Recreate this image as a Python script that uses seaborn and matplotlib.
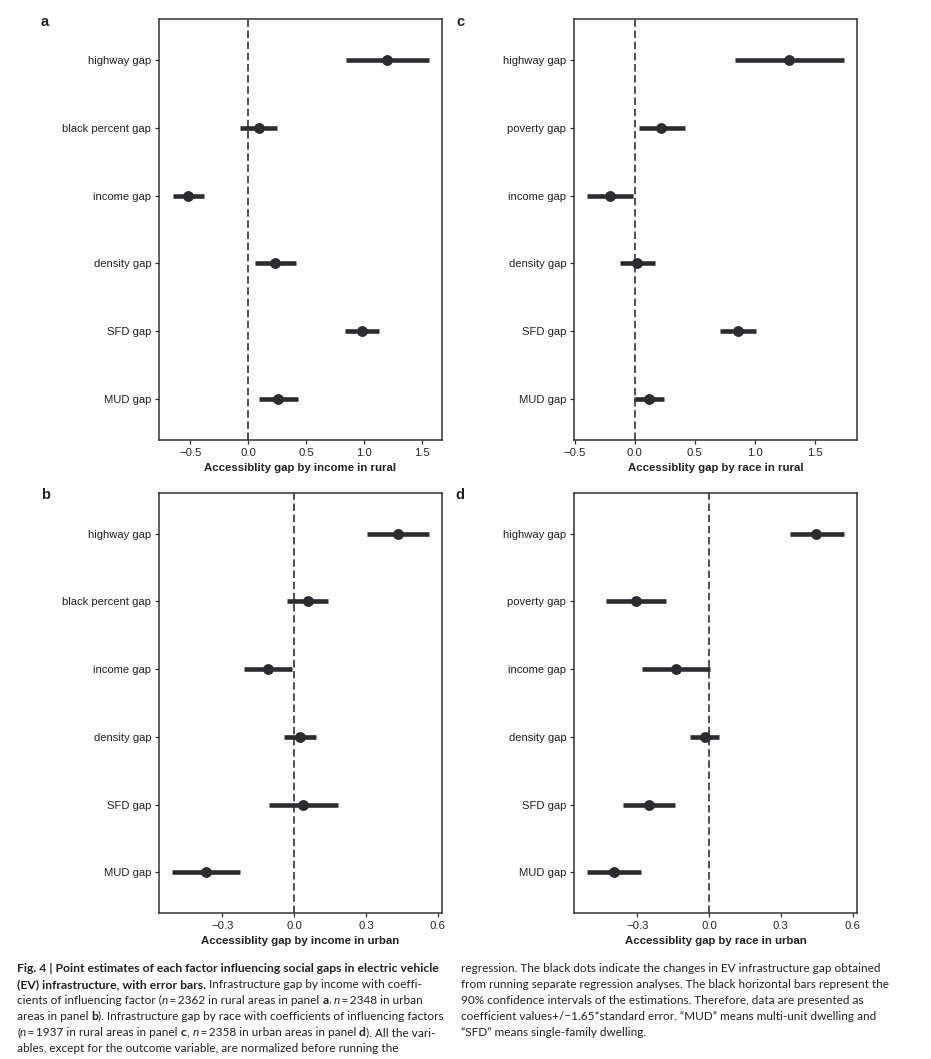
import matplotlib
matplotlib.use("Agg")
import matplotlib.pyplot as plt
import matplotlib.transforms as mtransforms
import pandas as pd
import seaborn as sns

# factor names (top to bottom)
income_factors = ["highway gap", "black percent gap", "income gap", "density gap", "SFD gap", "MUD gap"]
race_factors = ["highway gap", "poverty gap", "income gap", "density gap", "SFD gap", "MUD gap"]

# panel a: gap by income, rural
a_est = [1.20, 0.09, -0.52, 0.23, 0.98, 0.26]
a_lo = [0.84, -0.075, -0.65, 0.055, 0.83, 0.095]
a_hi = [1.56, 0.25, -0.38, 0.41, 1.13, 0.43]

# panel b: gap by income, urban
b_est = [0.434, 0.056, -0.110, 0.025, 0.038, -0.368]
b_lo = [0.306, -0.028, -0.208, -0.043, -0.107, -0.509]
b_hi = [0.564, 0.141, -0.010, 0.092, 0.183, -0.227]

# panel c: gap by race, rural
c_est = [1.286, 0.222, -0.203, 0.022, 0.858, 0.119]
c_lo = [0.839, 0.033, -0.394, -0.125, 0.711, -0.006]
c_hi = [1.742, 0.422, -0.014, 0.167, 1.008, 0.244]

# panel d: gap by race, urban
d_est = [0.448, -0.303, -0.138, -0.018, -0.251, -0.397]
d_lo = [0.337, -0.430, -0.278, -0.078, -0.359, -0.508]
d_hi = [0.562, -0.178, 0.003, 0.042, -0.141, -0.283]

a_ticks = [-0.5, 0.0, 0.5, 1.0, 1.5]
c_ticks = [-0.5, 0.0, 0.5, 1.0, 1.5]
urban_ticks = [-0.3, 0.0, 0.3, 0.6]

DARK = "#2b2b30"
EDGE = "#333333"
W, H = 931, 1059

sns.set_style("ticks")
plt.rcParams["font.family"] = ["Liberation Sans", "DejaVu Sans"]


def to_long(factors, lo, est, hi):
    rows = []
    for f, l, e, h in zip(factors, lo, est, hi):
        for v in (l, e, h):
            rows.append({"factor": f, "value": v})
    return pd.DataFrame(rows)


def add_ax(fig, left, right, top, bottom):
    return fig.add_axes([left / W, 1 - bottom / H, (right - left) / W, (bottom - top) / H])


def coef_panel(ax, factors, lo, est, hi, xlim, ticks, xlabel):
    df = to_long(factors, lo, est, hi)
    ax.axvline(0, color=EDGE, lw=1.2, ls=(0, (4.5, 2.2)), zorder=0)
    # median of (lo, est, hi) is the estimate; full percentile interval is lo..hi
    sns.pointplot(data=df, x="value", y="factor", order=factors, orient="h",
                  estimator="median", errorbar=("pi", 100), color=DARK,
                  linestyle="none", markersize=7.8, markeredgewidth=0,
                  err_kws={"linewidth": 3.3, "solid_capstyle": "butt"}, ax=ax)
    ax.set_xlim(*xlim)
    ax.set_ylim(5.6, -0.6)
    ax.set_xticks(ticks)
    ax.set_xlabel(xlabel, fontsize=8.2, fontweight="bold", color="#222222", labelpad=4)
    ax.set_ylabel("")
    for s in ax.spines.values():
        s.set_visible(True)
        s.set_color(EDGE)
        s.set_linewidth(1.1)
    ax.tick_params(axis="both", length=3, width=0.9, color=EDGE, labelsize=8.1,
                   labelcolor="#222222", pad=2.5)


fig = plt.figure(figsize=(W / 100, H / 100), dpi=100)

ax_a = add_ax(fig, 159, 442, 19, 440)
coef_panel(ax_a, income_factors, a_lo, a_est, a_hi, (-0.77, 1.67), a_ticks,
           "Accessiblity gap by income in rural")
ax_c = add_ax(fig, 574, 857, 19, 440)
coef_panel(ax_c, race_factors, c_lo, c_est, c_hi, (-0.506, 1.853), c_ticks,
           "Accessiblity gap by race in rural")
ax_b = add_ax(fig, 159, 442, 493, 913)
coef_panel(ax_b, income_factors, b_lo, b_est, b_hi, (-0.565, 0.618), urban_ticks,
           "Accessiblity gap by income in urban")
ax_d = add_ax(fig, 574, 857, 493, 913)
coef_panel(ax_d, race_factors, d_lo, d_est, d_hi, (-0.564, 0.618), urban_ticks,
           "Accessiblity gap by race in urban")

for letter, px, py in [("a", 45, 22), ("c", 460, 22), ("b", 46, 495), ("d", 460, 495)]:
    fig.text(px / W, 1 - py / H, letter, fontsize=10.5, fontweight="bold",
             ha="center", va="center", color="#222222")

# caption, drawn run by run so bold / italic pieces sit inline
CAP_FONT = ["Lato", "DejaVu Sans"]
CAP_SIZE = {"normal": 8.5, "bold": 8.75}
renderer = fig.canvas.get_renderer()
ident = mtransforms.IdentityTransform()


def text_width(s, weight, style):
    t = fig.text(0, 0, s, fontsize=CAP_SIZE[weight], fontweight=weight, fontstyle=style,
                 family=CAP_FONT, transform=ident)
    w = t.get_window_extent(renderer).width
    t.remove()
    return w


space_w = {}
for wt in ("normal", "bold"):
    space_w[wt] = text_width("x x", wt, "normal") - text_width("xx", wt, "normal")


def draw_line(x, y, runs):
    yy = H - y
    for s, wt, st in runs:
        while s.startswith(" "):
            x += space_w[wt]
            s = s[1:]
        trail = len(s) - len(s.rstrip(" "))
        s = s.rstrip(" ")
        if s:
            t = fig.text(x, yy, s, fontsize=CAP_SIZE[wt], fontweight=wt, fontstyle=st,
                         family=CAP_FONT, transform=ident, va="center", color="#231f20")
            x = t.get_window_extent(renderer).x1
        x += trail * space_w[wt]


B, R = "bold", "normal"
left_lines = [
    [("Fig. 4 | Point estimates of each factor influencing social gaps in electric vehicle", B, R)],
    [("(EV) infrastructure, with error bars.", B, R), (" Infrastructure gap by income with coeffi-", R, R)],
    [("cients of influencing factor (", R, R), ("n", R, "italic"), ("\u2009=\u20092362 in rural areas in panel ", R, R),
     ("a", B, R), (", ", R, R), ("n", R, "italic"), ("\u2009=\u20092348 in urban", R, R)],
    [("areas in panel ", R, R), ("b", B, R), ("). Infrastructure gap by race with coefficients of influencing factors", R, R)],
    [("(", R, R), ("n", R, "italic"), ("\u2009=\u20091937 in rural areas in panel ", R, R), ("c", B, R), (", ", R, R),
     ("n", R, "italic"), ("\u2009=\u20092358 in urban areas in panel ", R, R), ("d", B, R), ("). All the vari-", R, R)],
    [("ables, except for the outcome variable, are normalized before running the", R, R)],
]
right_lines = [
    "regression. The black dots indicate the changes in EV infrastructure gap obtained",
    "from running separate regression analyses. The black horizontal bars represent the",
    "90% confidence intervals of the estimations. Therefore, data are presented as",
    "coefficient values+/\u22121.65*standard error. \u201cMUD\u201d means multi-unit dwelling and",
    "\u201cSFD\u201d means single-family dwelling.",
]

for i, runs in enumerate(left_lines):
    draw_line(17, 968 + i * 16.2, runs)
for i, line in enumerate(right_lines):
    draw_line(461, 968 + i * 16.2, [(line, R, R)])

fig.savefig("out.png", dpi=100)
